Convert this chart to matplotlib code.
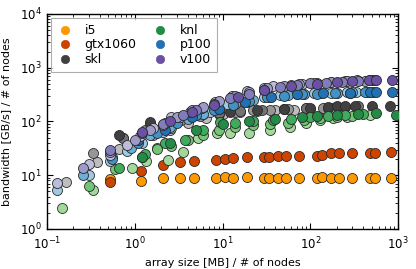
import matplotlib
matplotlib.use("Agg")
import matplotlib.pyplot as plt
from matplotlib.lines import Line2D

# ---------------- data ----------------
i5_x = [0.52, 1.18, 2.08, 3.28, 4.78, 8.4, 10.7, 13, 19.2, 29.7, 33.9, 42.6, 53, 75,
        118, 137, 171, 213, 301, 480, 547, 840]
i5_y = [8.5, 7.9, 8.8, 8.7, 8.7, 8.9, 9.2, 8.8, 9.1, 9.0, 8.9, 9.0, 8.7, 9.0,
        8.9, 9.1, 9.0, 9.0, 9.0, 9.0, 9.0, 9.0]
gtx_x = i5_x
gtx_y = [7.5, 12, 15.5, 17.4, 18.7, 19.5, 20, 20.5, 21.5, 22, 22, 22.5, 22.5, 23,
         23, 24, 25.5, 26, 26, 26, 26, 27]

skl_x = [
    [0.165, 0.37, 0.66, 1.03, 1.6, 2.5, 4, 6.5, 10, 16, 25, 40, 65, 100, 170],
    [0.33, 0.74, 1.3, 2.1, 3.4, 5.5, 9, 14, 22, 35, 55, 90, 140, 220],
    [0.74, 1.5, 2.8, 5, 9, 16, 28, 50, 90, 160, 250, 350],
    [0.66, 1.5, 3, 6, 12, 25, 50, 100, 160, 200, 250, 320, 500, 800],
]
skl_y = [
    [7.6, 17.4, 30.5, 42, 55, 70, 95, 115, 135, 150, 155, 160, 165, 170, 175],
    [25.6, 49, 70, 85, 105, 125, 140, 150, 160, 165, 170, 175, 175, 180],
    [49, 90, 110, 130, 145, 155, 165, 170, 175, 180, 185, 190],
    [56, 99, 115, 135, 150, 160, 170, 180, 185, 190, 190, 190, 195, 196],
]

knl_x = [
    [0.147, 0.33, 0.92, 1.34, 1.77, 2.4, 3.5, 5.3, 8.6, 12, 20, 35, 59, 90, 129, 180, 260, 475],
    [0.30, 0.60, 1.2, 1.8, 2.6, 4, 6, 9, 14, 22, 35, 55, 85, 130, 200, 300],
    [0.66, 1.3, 2.2, 3.7, 6, 9.3, 14, 22, 38, 60, 100, 160, 250, 400],
    [1.2, 2.5, 5, 10, 20, 40, 80, 118, 200, 350, 565, 950],
]
knl_y = [
    [2.4, 5.2, 13.5, 18.7, 32, 19, 27, 49, 60, 60, 60, 70, 80, 95, 107, 115, 123, 133],
    [6.3, 13, 22, 30.5, 35, 45, 55, 70, 80, 85, 90, 95, 105, 115, 120, 125],
    [13.5, 25, 40, 45, 70, 99, 93, 100, 107, 110, 120, 125, 130, 135],
    [22, 40, 70, 90, 100, 110, 120, 126, 130, 135, 142, 130],
]

p100_x = [
    [0.13, 0.30, 0.52, 0.82, 1.2, 2.1, 2.6, 4.6, 7.2, 11.2, 19, 30, 45, 70, 110, 170, 260, 330],
    [0.26, 0.55, 0.9, 1.5, 2.5, 4, 6, 9, 14, 22, 35, 55, 85, 130, 200, 300, 450],
    [0.55, 1.1, 1.8, 3, 5, 8, 13, 20, 32, 50, 80, 120, 190, 280, 420, 520],
    [1.1, 2.2, 4.5, 9, 18, 36, 70, 140, 280, 480, 560, 850],
]
p100_y = [
    [5.2, 10.1, 18, 28.6, 39, 65, 75, 130, 150, 210, 235, 290, 310, 330, 340, 345, 350, 350],
    [10.1, 22, 32, 55, 80, 110, 140, 170, 210, 250, 290, 310, 330, 340, 345, 350, 350],
    [20, 40, 60, 95, 130, 165, 200, 240, 280, 300, 320, 330, 340, 345, 350, 350],
    [45, 70, 120, 170, 230, 280, 320, 340, 345, 350, 350, 355],
]

v100_x = [
    [0.13, 0.30, 0.52, 0.82, 1.14, 1.6, 2.1, 2.6, 3.3, 4.3, 5.8, 8.2, 12.7, 19, 30, 38, 60, 80,
     120, 170, 250, 340],
    [0.26, 0.52, 1.0, 1.5, 2.2, 3.0, 4.5, 6, 9, 14, 20, 32, 50, 75, 110, 170, 260, 420, 520],
    [0.52, 1.2, 2.1, 3.5, 5, 8, 12, 20, 30, 45, 70, 100, 150, 230, 350, 480, 550],
    [1.2, 2.5, 4.5, 8, 15, 30, 60, 120, 200, 300, 470, 560, 850],
]
v100_y = [
    [7.3, 16, 24, 36, 54, 75, 86, 120, 120, 152, 180, 230, 300, 370, 420, 450, 480, 500,
     520, 540, 560, 580],
    [13.4, 27, 45, 70, 95, 120, 160, 185, 240, 300, 350, 420, 460, 490, 520, 540, 560, 570, 580],
    [29.5, 60, 90, 130, 160, 210, 270, 330, 390, 430, 480, 510, 530, 550, 570, 580, 590],
    [65, 100, 150, 200, 280, 380, 450, 500, 540, 560, 580, 590, 590],
]

labels = ["i5", "gtx1060", "skl", "knl", "p100", "v100"]
legend_colors = ["#ff9900", "#cc4400", "#404040", "#238b45", "#2171b5", "#6a51a3"]
skl_shades = ["#bdbdbd", "#969696", "#737373", "#404040"]
knl_shades = ["#a1d99b", "#74c476", "#41ab5d", "#238b45"]
p100_shades = ["#9ecae1", "#6baed6", "#4292c6", "#2171b5"]
v100_shades = ["#bcbddc", "#9e9ac8", "#807dba", "#6a51a3"]

# ---------------- plot ----------------
plt.rcParams['font.family'] = ['DejaVu Sans']
fig = plt.figure(figsize=(4.16, 2.69), dpi=100)
ax = fig.add_axes([0.113, 0.149, 0.844, 0.799])

ms = 52
ekw = dict(edgecolors="#2a2a2a", linewidths=0.6, zorder=3)
ax.scatter(i5_x, i5_y, s=ms, c=legend_colors[0], **ekw)
ax.scatter(gtx_x, gtx_y, s=ms, c=legend_colors[1], **ekw)
for xs, ys, shades in [(skl_x, skl_y, skl_shades), (knl_x, knl_y, knl_shades),
                       (p100_x, p100_y, p100_shades), (v100_x, v100_y, v100_shades)]:
    for k in range(len(xs)):
        ax.scatter(xs[k], ys[k], s=ms, c=shades[k], **ekw)

ax.set_xscale("log")
ax.set_yscale("log")
ax.set_xlim(1e-1, 1e3)
ax.set_ylim(1e0, 1e4)
ax.tick_params(which="both", direction="in", top=True, right=True, labelsize=8.5)
ax.tick_params(axis="x", which="major", pad=5)
ax.tick_params(axis="y", which="major", pad=4)
ax.tick_params(which="major", length=4)
ax.tick_params(which="minor", length=2)
for sp in ax.spines.values():
    sp.set_linewidth(1.0)
ax.set_xlabel("array size [MB] / # of nodes", fontsize=8)
ax.set_ylabel("bandwidth [GB/s] / # of nodes", fontsize=8, labelpad=6)

handles = [Line2D([], [], ls="", marker="o", markersize=6, markerfacecolor=c,
                  markeredgecolor=c, markeredgewidth=0.5) for c in legend_colors]
leg = ax.legend(handles, labels, loc="upper left", ncol=2, fontsize=9,
                frameon=True, fancybox=False, borderaxespad=0.35,
                handletextpad=1.0, columnspacing=1.25, labelspacing=0.12,
                borderpad=0.45, handlelength=1.2)
leg.get_frame().set_edgecolor("#999999")
leg.get_frame().set_linewidth(0.8)

fig.savefig("out.png", dpi=100)
